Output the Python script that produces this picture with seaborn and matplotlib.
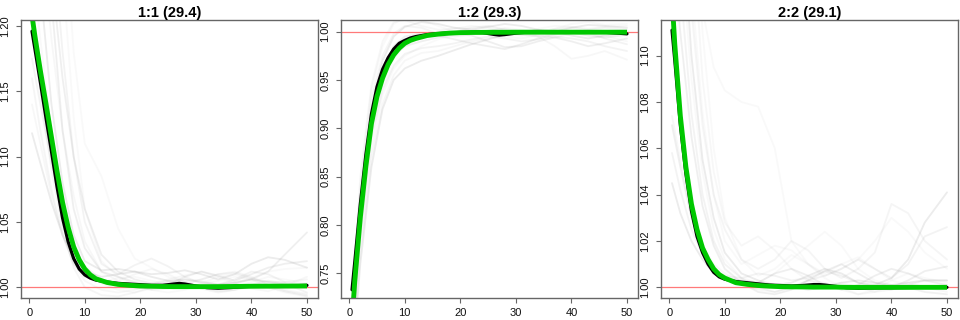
import matplotlib
matplotlib.use("Agg")
import matplotlib.pyplot as plt
import seaborn as sns
import pandas as pd

# ---------------- data ----------------
titles = ["1:1 (29.4)", "1:2 (29.3)", "2:2 (29.1)"]
x_ticks = [0, 10, 20, 30, 40, 50]
y_ticks_1 = [1.00, 1.05, 1.10, 1.15, 1.20]
y_ticks_2 = [0.75, 0.80, 0.85, 0.90, 0.95, 1.00]
y_ticks_3 = [1.00, 1.02, 1.04, 1.06, 1.08, 1.10]
ylim_1 = (0.9918, 1.2046)
ylim_2 = (0.7245, 1.0121)
ylim_3 = (0.9954, 1.1154)
xlim = (-1.48, 51.98)
ref_level = 1.0

x_main = [0.5, 1, 2, 3, 4, 5, 6, 7, 8, 9, 10, 11, 12, 14, 16, 18, 20, 22, 24, 26, 27, 28,
          30, 32, 34, 36, 40, 45, 50]

black_1 = [1.196, 1.183, 1.157, 1.130, 1.104, 1.077, 1.053, 1.035, 1.022, 1.014, 1.0095, 1.007,
           1.0055, 1.004, 1.003, 1.0025, 1.002, 1.0015, 1.0015, 1.0025, 1.003, 1.0025, 1.001,
           0.9997, 0.9993, 0.9997, 1.0008, 1.0008, 1.0015]
green_1 = [1.208, 1.193, 1.166, 1.141, 1.115, 1.089, 1.065, 1.046, 1.031, 1.021, 1.014, 1.0095,
           1.0065, 1.0037, 1.0022, 1.0015, 1.001, 1.0008, 1.0006, 1.0005, 1.0005, 1.0005, 1.0005,
           1.0005, 1.0005, 1.0006, 1.0008, 1.0009, 1.001]

black_2 = [0.733, 0.762, 0.822, 0.873, 0.915, 0.943, 0.961, 0.973, 0.982, 0.988, 0.991, 0.9935,
           0.995, 0.997, 0.998, 0.9988, 0.9992, 0.9993, 0.999, 0.9972, 0.9965, 0.997, 0.9985,
           0.9995, 1.0, 1.0, 0.9998, 0.9998, 0.9978]
green_2 = [0.700, 0.742, 0.808, 0.861, 0.905, 0.933, 0.952, 0.966, 0.976, 0.983, 0.988, 0.991,
           0.993, 0.996, 0.9975, 0.9985, 0.999, 0.9992, 0.9993, 0.9994, 0.9994, 0.9994, 0.9995,
           0.9995, 0.9995, 0.9995, 0.9995, 0.9995, 0.9995]

black_3 = [1.111, 1.098, 1.070, 1.049, 1.033, 1.022, 1.015, 1.010, 1.0065, 1.0045, 1.0035, 1.003,
           1.0025, 1.002, 1.0015, 1.001, 1.0008, 1.0006, 1.0008, 1.0012, 1.0012, 1.001, 1.0004,
           0.9998, 0.9996, 0.9997, 0.9998, 1.0, 1.0]
green_3 = [1.125, 1.105, 1.074, 1.052, 1.036, 1.025, 1.017, 1.012, 1.008, 1.0055, 1.004, 1.003,
           1.002, 1.0013, 1.0008, 1.0005, 1.0003, 1.0002, 1.0002, 1.0001, 1.0001, 1.0001, 1.0001,
           1.0, 1.0, 1.0, 1.0, 1.0, 1.0]

x_grey = [0.5, 2, 4, 6, 8, 10, 13, 16, 19, 22, 25, 28, 31, 34, 37, 40, 43, 46, 50]

grey_1 = [
    [1.118, 1.095, 1.065, 1.040, 1.022, 1.012, 1.008, 1.010, 1.012, 1.008, 1.005, 1.006, 1.004, 1.002, 1.003, 1.006, 1.004, 1.002, 1.000],
    [1.175, 1.140, 1.095, 1.058, 1.032, 1.016, 1.006, 1.002, 1.000, 0.999, 1.002, 1.004, 1.000, 0.997, 0.998, 1.002, 1.005, 1.003, 0.996],
    [1.350, 1.280, 1.190, 1.120, 1.070, 1.035, 1.012, 1.005, 1.010, 1.014, 1.010, 1.004, 1.006, 1.010, 1.012, 1.008, 1.002, 0.998, 0.995],
    [1.400, 1.330, 1.240, 1.160, 1.100, 1.060, 1.025, 1.012, 1.006, 1.003, 1.002, 1.008, 1.012, 1.009, 1.005, 1.010, 1.015, 1.018, 1.020],
    [1.600, 1.500, 1.400, 1.300, 1.180, 1.110, 1.085, 1.045, 1.022, 1.015, 1.008, 1.004, 1.000, 0.998, 1.000, 1.004, 1.008, 1.006, 1.003],
    [1.250, 1.190, 1.120, 1.070, 1.035, 1.015, 1.003, 0.998, 0.996, 0.999, 1.003, 1.006, 1.005, 1.002, 1.003, 1.007, 1.012, 1.014, 1.015],
    [1.200, 1.150, 1.090, 1.045, 1.015, 1.000, 0.994, 0.993, 0.996, 1.000, 1.004, 1.003, 0.999, 0.996, 0.998, 1.001, 1.000, 0.997, 0.994],
    [1.300, 1.230, 1.140, 1.080, 1.040, 1.020, 1.013, 1.014, 1.012, 1.010, 1.011, 1.013, 1.010, 1.006, 1.010, 1.018, 1.023, 1.021, 1.015],
    [1.500, 1.400, 1.280, 1.180, 1.100, 1.050, 1.018, 1.010, 1.017, 1.022, 1.016, 1.008, 1.003, 1.002, 1.006, 1.012, 1.010, 1.004, 1.002],
    [1.140, 1.110, 1.070, 1.040, 1.018, 1.005, 0.998, 0.996, 0.998, 1.003, 1.006, 1.009, 1.012, 1.008, 1.003, 0.999, 0.997, 1.001, 1.008],
    [1.450, 1.350, 1.220, 1.120, 1.060, 1.030, 1.012, 1.008, 1.004, 1.002, 1.005, 1.003, 1.000, 1.002, 1.004, 1.006, 1.012, 1.025, 1.042],
    [1.220, 1.170, 1.100, 1.050, 1.020, 1.008, 1.004, 1.007, 1.008, 1.005, 1.002, 1.000, 1.002, 1.005, 1.008, 1.006, 1.002, 0.997, 0.993],
    [1.700, 1.550, 1.380, 1.240, 1.130, 1.060, 1.020, 1.008, 1.002, 0.998, 0.996, 0.998, 1.003, 1.008, 1.010, 1.006, 1.000, 0.996, 0.993],
    [1.160, 1.120, 1.075, 1.040, 1.018, 1.008, 1.006, 1.004, 1.001, 0.998, 0.999, 1.002, 1.006, 1.010, 1.011, 1.007, 1.004, 1.004, 1.006],
]

grey_2 = [
    [0.700, 0.820, 0.920, 0.970, 0.995, 1.005, 1.010, 1.008, 1.004, 1.002, 1.005, 1.008, 1.006, 1.002, 1.000, 1.004, 1.007, 1.006, 1.004],
    [0.680, 0.790, 0.890, 0.940, 0.965, 0.977, 0.983, 0.985, 0.988, 0.992, 0.995, 0.993, 0.990, 0.992, 0.995, 0.993, 0.990, 0.985, 0.980],
    [0.660, 0.770, 0.870, 0.925, 0.955, 0.970, 0.978, 0.980, 0.985, 0.990, 0.993, 0.996, 0.998, 0.995, 0.985, 0.972, 0.975, 0.980, 0.971],
    [0.690, 0.810, 0.910, 0.960, 0.985, 0.995, 0.998, 0.996, 0.992, 0.988, 0.985, 0.982, 0.987, 0.993, 0.997, 0.999, 0.996, 0.994, 0.997],
    [0.710, 0.840, 0.940, 0.985, 1.008, 1.015, 1.012, 1.006, 1.000, 0.998, 1.001, 1.004, 1.002, 1.000, 1.003, 1.008, 1.010, 1.007, 1.008],
    [0.670, 0.780, 0.880, 0.935, 0.962, 0.975, 0.985, 0.992, 0.997, 1.000, 0.998, 0.995, 0.993, 0.997, 1.002, 1.004, 1.000, 0.996, 0.990],
    [0.700, 0.830, 0.930, 0.975, 0.998, 1.006, 1.004, 0.998, 0.995, 0.997, 1.001, 1.003, 1.000, 0.996, 0.994, 0.998, 1.002, 1.004, 1.002],
    [0.650, 0.760, 0.860, 0.920, 0.950, 0.962, 0.970, 0.975, 0.981, 0.987, 0.992, 0.997, 1.000, 1.002, 1.000, 0.996, 0.993, 0.996, 0.999],
    [0.690, 0.800, 0.900, 0.955, 0.980, 0.990, 0.995, 0.997, 1.000, 1.004, 1.006, 1.002, 0.997, 0.995, 0.998, 1.001, 0.999, 0.993, 0.987],
    [0.720, 0.850, 0.945, 0.990, 1.010, 1.012, 1.006, 1.002, 1.003, 1.006, 1.004, 0.999, 0.996, 0.999, 1.003, 1.005, 1.003, 1.005, 1.006],
    [0.680, 0.800, 0.900, 0.950, 0.975, 0.985, 0.990, 0.994, 0.998, 0.996, 0.990, 0.984, 0.985, 0.990, 0.994, 0.990, 0.985, 0.988, 0.993],
    [0.670, 0.790, 0.895, 0.945, 0.972, 0.986, 0.994, 1.000, 1.004, 1.003, 0.999, 0.996, 0.998, 1.003, 1.006, 1.005, 1.002, 0.999, 1.000],
]

grey_3 = [
    [1.045, 1.032, 1.020, 1.012, 1.006, 1.004, 1.003, 1.002, 1.001, 1.000, 0.999, 1.000, 1.002, 1.003, 1.002, 1.001, 1.002, 1.003, 1.003],
    [1.058, 1.042, 1.025, 1.014, 1.008, 1.005, 1.004, 1.006, 1.005, 1.003, 1.004, 1.007, 1.005, 1.002, 1.000, 0.999, 1.001, 1.003, 1.003],
    [1.074, 1.055, 1.032, 1.018, 1.010, 1.006, 1.002, 0.999, 0.998, 1.000, 1.003, 1.002, 0.999, 0.997, 0.998, 1.001, 1.000, 0.998, 0.997],
    [1.070, 1.052, 1.030, 1.016, 1.008, 1.004, 1.001, 1.002, 1.006, 1.008, 1.005, 1.001, 0.999, 1.001, 1.005, 1.008, 1.006, 1.003, 1.001],
    [1.200, 1.150, 1.090, 1.050, 1.025, 1.012, 1.004, 1.002, 1.006, 1.012, 1.018, 1.024, 1.018, 1.008, 1.003, 1.001, 1.000, 0.998, 0.997],
    [1.300, 1.240, 1.170, 1.120, 1.095, 1.085, 1.080, 1.078, 1.060, 1.020, 1.010, 1.005, 1.008, 1.012, 1.020, 1.030, 1.024, 1.015, 1.008],
    [1.250, 1.190, 1.120, 1.070, 1.040, 1.025, 1.012, 1.008, 1.012, 1.020, 1.016, 1.008, 1.004, 1.008, 1.015, 1.036, 1.032, 1.020, 1.012],
    [1.220, 1.170, 1.100, 1.055, 1.030, 1.015, 1.006, 1.003, 1.001, 1.002, 1.005, 1.008, 1.006, 1.002, 1.001, 1.004, 1.012, 1.028, 1.041],
    [1.180, 1.130, 1.075, 1.040, 1.020, 1.010, 1.004, 1.000, 0.998, 1.000, 1.003, 1.005, 1.008, 1.012, 1.008, 1.004, 1.010, 1.022, 1.026],
    [1.350, 1.260, 1.160, 1.090, 1.050, 1.028, 1.018, 1.022, 1.016, 1.008, 1.003, 1.001, 1.002, 1.000, 0.998, 0.999, 1.002, 1.000, 0.998],
    [1.150, 1.110, 1.065, 1.035, 1.018, 1.008, 1.002, 0.998, 0.997, 0.999, 1.003, 1.007, 1.010, 1.006, 1.002, 1.000, 1.003, 1.007, 1.009],
    [1.400, 1.300, 1.190, 1.110, 1.060, 1.030, 1.012, 1.005, 1.008, 1.014, 1.010, 1.004, 1.000, 0.997, 0.999, 1.003, 1.006, 1.004, 1.002],
    [1.280, 1.210, 1.130, 1.075, 1.040, 1.020, 1.010, 1.014, 1.018, 1.016, 1.010, 1.006, 1.010, 1.013, 1.008, 1.003, 1.001, 1.000, 1.001],
]

# ---------------- figure ----------------
sns.set_style("white")
plt.rcParams["font.family"] = ["Liberation Sans", "DejaVu Sans"]

fig = plt.figure(figsize=(9.6, 3.2), dpi=100)

panels = [
    (titles[0], grey_1, black_1, green_1, y_ticks_1, ylim_1),
    (titles[1], grey_2, black_2, green_2, y_ticks_2, ylim_2),
    (titles[2], grey_3, black_3, green_3, y_ticks_3, ylim_3),
]

grey_alphas = [0.20, 0.12, 0.08, 0.16, 0.06, 0.06, 0.10]

for i, (title, greys, blk, grn, yt, yl) in enumerate(panels):
    ax = fig.add_axes([(21 + 320 * i) / 960, 22 / 320, 297 / 960, 278 / 320])
    for j, g in enumerate(greys):
        df = pd.DataFrame({"x": x_grey, "y": g})
        sns.lineplot(data=df, x="x", y="y", ax=ax, color="#a0a0a0",
                     alpha=grey_alphas[j % len(grey_alphas)], lw=1.3,
                     estimator=None, sort=False)
    ax.axhline(ref_level, color="#ff6a6a", lw=0.9, alpha=0.9)
    dfb = pd.DataFrame({"x": x_main, "y": blk})
    sns.lineplot(data=dfb, x="x", y="y", ax=ax, color="black", lw=2.3,
                 estimator=None, sort=False)
    dfg = pd.DataFrame({"x": x_main, "y": grn})
    sns.lineplot(data=dfg, x="x", y="y", ax=ax, color="#00c800", lw=3.5,
                 estimator=None, sort=False, solid_capstyle="butt")
    ax.set_xlim(*xlim)
    ax.set_ylim(*yl)
    ax.set_xticks(x_ticks)
    ax.set_yticks(yt)
    ax.set_yticklabels([f"{v:.2f}" for v in yt], rotation=90, va="center")
    ax.set_xlabel("")
    ax.set_ylabel("")
    ax.set_title(title, fontsize=10.5, fontweight="bold", pad=2.5, color="black")
    for s in ax.spines.values():
        s.set_color("#666666")
        s.set_linewidth(1.0)
        s.set_visible(True)
    ax.tick_params(axis="both", which="major", direction="out", length=3.6,
                   width=0.8, color="#666666", labelsize=8, pad=3.4,
                   bottom=True, left=True, labelcolor="#111111")
    ax.tick_params(axis="y", pad=4.2)

fig.savefig("out.png", dpi=100, facecolor="white")
